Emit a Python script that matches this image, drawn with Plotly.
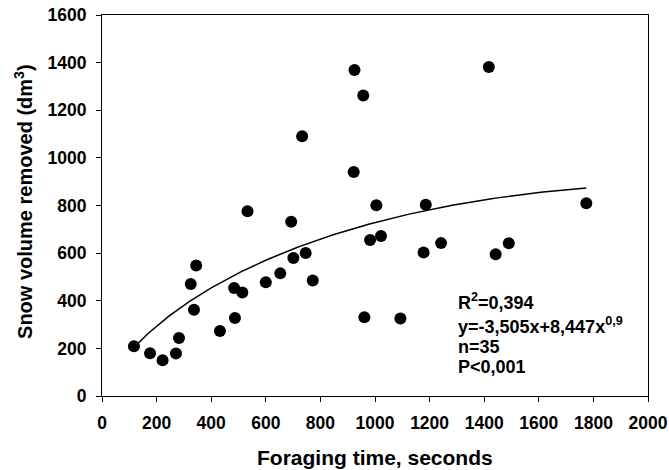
import numpy as np
import plotly.graph_objects as go

foraging_time = [117, 176, 222, 271, 282, 325, 345, 337, 432, 484, 487, 514, 600, 653,
                 701, 746, 772, 533, 693, 733, 925, 957, 922, 1005, 1186, 1417, 1774,
                 1022, 982, 1178, 1242, 1442, 1490, 961, 1093]
snow_volume = [209, 180, 150, 178, 244, 470, 548, 362, 273, 454, 328, 435, 478, 515,
               580, 601, 485, 776, 732, 1091, 1369, 1262, 941, 801, 803, 1382, 809,
               672, 655, 603, 642, 595, 641, 331, 325]

# fitted model shown on the chart: y = -3.505x + 8.447x^0.9
coef_lin = -3.505
coef_pow = 8.447
power = 0.9
fit_x = np.linspace(min(foraging_time), max(foraging_time), 200)
fit_y = coef_lin * fit_x + coef_pow * fit_x ** power

x_ticks = list(range(0, 2001, 200))
y_ticks = list(range(0, 1601, 200))

stats_lines = ["R<sup>2</sup>=0,394", "y=-3,505x+8,447x<sup>0,9</sup>", "n=35", "P<0,001"]

font_family = "Liberation Sans, Arial, sans-serif"

fig = go.Figure()
fig.add_trace(go.Scatter(x=fit_x, y=fit_y, mode="lines",
                         line=dict(color="black", width=1.5), hoverinfo="skip"))
fig.add_trace(go.Scatter(x=foraging_time, y=snow_volume, mode="markers",
                         marker=dict(color="black", size=12)))

axis_common = dict(showline=True, linecolor="black", linewidth=1, mirror=True,
                   ticks="outside", ticklen=5, tickcolor="black", tickwidth=1,
                   showgrid=False, zeroline=False, automargin=False,
                   tickfont=dict(family=font_family, size=17.5, color="black", weight="bold"))

fig.update_xaxes(range=[0, 2000], tickvals=x_ticks, ticklabelstandoff=6, **axis_common)
fig.update_yaxes(range=[0, 1600], tickvals=y_ticks, ticklabelstandoff=6, **axis_common)

annotations = []
ys = [0.247, 0.186, 0.129, 0.076]
for txt, yy in zip(stats_lines, ys):
    annotations.append(dict(text=txt, x=0.648, y=yy, xref="paper", yref="paper",
                            xanchor="left", yanchor="middle", showarrow=False,
                            font=dict(family=font_family, size=18, color="black", weight="bold")))
annotations.append(dict(text="Foraging time, seconds", x=0.5, y=(395.7 - 457) / 380.4,
                        xref="paper", yref="paper", showarrow=False, yanchor="middle",
                        font=dict(family=font_family, size=21, color="black", weight="bold")))
annotations.append(dict(text="Snow volume removed (dm<sup>3</sup>)", x=(24 - 102) / 545.7,
                        y=(395.7 - 201) / 380.4, xref="paper", yref="paper",
                        textangle=-90, showarrow=False, xanchor="center", yanchor="middle",
                        font=dict(family=font_family, size=20, color="black", weight="bold")))

fig.update_layout(width=669, height=470, margin=dict(l=102, r=21, t=15, b=74),
                  paper_bgcolor="white", plot_bgcolor="white", showlegend=False,
                  annotations=annotations)

fig.write_html("out.html", config={"displayModeBar": False},
               post_script="document.body.style.margin='0';")
